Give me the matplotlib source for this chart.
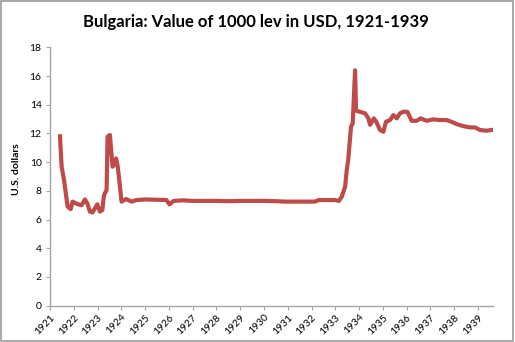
import matplotlib
matplotlib.use("Agg")
import matplotlib.pyplot as plt
from matplotlib.patches import Rectangle

# Data: fractional year, value in USD
years = [1921.42, 1921.49, 1921.59, 1921.74, 1921.87, 1921.95, 1922.15, 1922.33,
         1922.47, 1922.57, 1922.68, 1922.79, 1922.99, 1923.10, 1923.20, 1923.27,
         1923.38, 1923.42, 1923.52, 1923.63, 1923.69, 1923.78, 1923.85, 1924.01,
         1924.20, 1924.43, 1924.64, 1925.0, 1925.5, 1925.9, 1926.02, 1926.2,
         1926.6, 1927.0, 1927.5, 1928.0, 1928.5, 1929.0, 1929.5, 1930.0,
         1930.5, 1930.88, 1931.5, 1932.14, 1932.3, 1932.98, 1933.15, 1933.27,
         1933.41, 1933.48, 1933.54, 1933.66, 1933.73, 1933.83, 1933.87, 1934.04,
         1934.25, 1934.39, 1934.46, 1934.62, 1934.72, 1934.88, 1935.02, 1935.13,
         1935.30, 1935.44, 1935.58, 1935.72, 1935.86, 1936.03, 1936.21, 1936.42,
         1936.59, 1936.84, 1937.12, 1937.40, 1937.68, 1937.89, 1938.10, 1938.38,
         1938.66, 1938.87, 1939.08, 1939.36, 1939.57]
values = [11.8, 9.68, 8.75, 6.9, 6.73, 7.25, 7.08, 7.0,
          7.4, 7.13, 6.55, 6.5, 7.06, 6.55, 6.66, 7.7,
          8.06, 11.77, 11.89, 9.68, 9.8, 10.26, 9.68, 7.25,
          7.43, 7.25, 7.36, 7.4, 7.38, 7.36, 7.06, 7.3,
          7.34, 7.3, 7.3, 7.3, 7.28, 7.3, 7.3, 7.3,
          7.28, 7.25, 7.25, 7.25, 7.36, 7.36, 7.3, 7.59,
          8.29, 9.45, 10.15, 12.47, 12.7, 16.4, 13.6, 13.5,
          13.4, 13.05, 12.6, 13.05, 12.81, 12.24, 12.12, 12.81,
          12.93, 13.28, 13.05, 13.4, 13.51, 13.51, 12.88, 12.88,
          13.05, 12.88, 12.98, 12.93, 12.93, 12.81, 12.65, 12.51,
          12.42, 12.42, 12.24, 12.19, 12.24]
tick_years = list(range(1921, 1940))
tick_labels = [str(y) for y in tick_years]
y_ticks = list(range(0, 19, 2))

font = ['Lato', 'DejaVu Sans']
plt.rcParams['font.family'] = font

fig = plt.figure(figsize=(5.15, 3.42), dpi=100)
ax = fig.add_axes([50/515, 1 - 305.7/342, (493 - 50)/515, (305.7 - 47.3)/342])

ax.plot(years, values, color='#be4b48', lw=3.0, solid_joinstyle='round')

ax.set_xlim(1921, 1939.63)
ax.set_ylim(0, 18)
ax.set_xticks(tick_years)
ax.set_xticklabels(tick_labels, rotation=45, ha='right', rotation_mode='anchor', fontsize=7.5)
ax.set_yticks(y_ticks)
ax.set_yticklabels([str(v) for v in y_ticks], fontsize=7.5)
ax.tick_params(axis='both', direction='out', length=3, color='#a6a6a6', width=0.8, pad=3)
ax.tick_params(axis='x', pad=2)

for s in ['top', 'right']:
    ax.spines[s].set_visible(False)
for s in ['left', 'bottom']:
    ax.spines[s].set_color('#a6a6a6')
    ax.spines[s].set_linewidth(1.0)

ax.set_ylabel('U.S. dollars', fontsize=7.5, fontweight='bold', labelpad=6)
ax.yaxis.set_label_coords(-0.065, 0.53)
fig.text(256/515, 1 - 22/342, 'Bulgaria: Value of 1000 lev in USD, 1921-1939',
         ha='center', va='center', fontsize=12, fontweight='bold')

fig.patches.append(Rectangle((0.002, 0.003), 0.995, 0.993, transform=fig.transFigure,
                             fill=False, edgecolor='#9a9a9a', lw=1.2))

fig.savefig('out.png', dpi=100)
